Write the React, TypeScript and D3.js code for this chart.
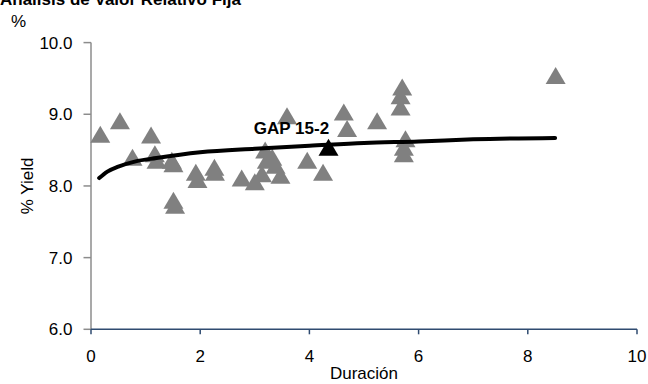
import React from 'react';
import * as d3 from 'd3';

// bond durations and yields
const durations = [0.17, 0.53, 0.76, 1.10, 1.17, 1.20, 1.48, 1.51, 1.51, 1.54, 1.92, 1.95, 2.26, 2.27, 2.76, 3.00, 3.13, 3.19, 3.22, 3.32, 3.38, 3.47, 3.59, 3.96, 4.25, 4.63, 4.69, 5.24, 5.67, 5.67, 5.70, 5.73, 5.73, 5.76, 8.51];
const yields = [8.72, 8.91, 8.40, 8.71, 8.45, 8.36, 8.36, 8.31, 7.80, 7.73, 8.19, 8.09, 8.26, 8.19, 8.11, 8.06, 8.17, 8.50, 8.36, 8.40, 8.29, 8.15, 8.98, 8.36, 8.19, 9.03, 8.80, 8.91, 9.10, 9.26, 9.38, 8.54, 8.45, 8.66, 9.54];

// highlighted issue
const highlightLabel = 'GAP 15-2';
const highlightDuration = 4.35;
const highlightYield = 8.54;

// fitted curve
const curveX = [0.15, 0.3, 0.5, 0.8, 1.2, 2, 3, 4, 5, 6, 7, 8.5];
const curveY = [8.11, 8.20, 8.27, 8.34, 8.39, 8.47, 8.52, 8.56, 8.60, 8.62, 8.65, 8.67];

const xTicks = [0, 2, 4, 6, 8, 10];
const yTicks = [6, 7, 8, 9, 10];

const title = 'Análisis de Valor Relativo Fija';

const width = 648;
const height = 384;
const font = '"Liberation Sans", Arial, sans-serif';

const App: React.FC = () => {
  const x = d3.scaleLinear().domain([0, 10]).range([91, 637]);
  const y = d3.scaleLinear().domain([6, 10]).range([329.3, 42.6]);

  const tw = 20;
  const th = 17;
  const tri = `M0,${-th / 2}L${tw / 2},${th / 2}L${-tw / 2},${th / 2}Z`;

  const pts = durations.map((d, i) => ({ d, v: yields[i] }));
  const curvePts = curveX.map((d, i) => [d, curveY[i]] as [number, number]);
  const line = d3.line<[number, number]>()
    .x(d => x(d[0]))
    .y(d => y(d[1]))
    .curve(d3.curveMonotoneX);

  const axisBlue = '#2f4b70';
  const axisGray = '#8c8c8c';

  return (
    <svg width={width} height={height} style={{ position: 'absolute', left: 0, top: 0, background: '#fff' }} fontFamily={font}>
      <text x={0} y={5} fontSize={17} fontWeight="bold">{title}</text>
      <text x={11} y={27} fontSize={17}>%</text>
      <text transform={`translate(33,186) rotate(-90)`} textAnchor="middle" fontSize={17}>% Yield</text>

      {/* y axis */}
      <line x1={x(0)} x2={x(0)} y1={y(10)} y2={y(6)} stroke={axisGray} strokeWidth={1.5} />
      {yTicks.map(t => (
        <g key={t}>
          <line x1={x(0) - 7.5} x2={x(0)} y1={y(t)} y2={y(t)} stroke={axisGray} strokeWidth={1.5} />
          <text x={72.5} y={y(t)} dy="0.36em" textAnchor="end" fontSize={17}>{t.toFixed(1)}</text>
        </g>
      ))}

      {/* x axis */}
      <line x1={x(0)} x2={x(10)} y1={y(6)} y2={y(6)} stroke={axisBlue} strokeWidth={1.5} />
      {xTicks.map(t => (
        <g key={t}>
          <line x1={x(t)} x2={x(t)} y1={y(6)} y2={y(6) + 5} stroke={axisBlue} strokeWidth={1.5} />
          <text x={x(t)} y={362} textAnchor="middle" fontSize={17}>{t}</text>
        </g>
      ))}
      <text x={(x(0) + x(10)) / 2} y={379} textAnchor="middle" fontSize={17}>Duración</text>

      {pts.map((p, i) => (
        <path key={i} d={tri} transform={`translate(${x(p.d)},${y(p.v)})`} fill="#808080" />
      ))}

      <path d={line(curvePts) || ''} fill="none" stroke="#000" strokeWidth={4} strokeLinecap="round" />

      <path d={tri} transform={`translate(${x(highlightDuration)},${y(highlightYield)})`} fill="#000" />
      <text x={x(highlightDuration) - 37} y={134} textAnchor="middle" fontSize={17} fontWeight="bold">{highlightLabel}</text>
    </svg>
  );
};

export default App;
